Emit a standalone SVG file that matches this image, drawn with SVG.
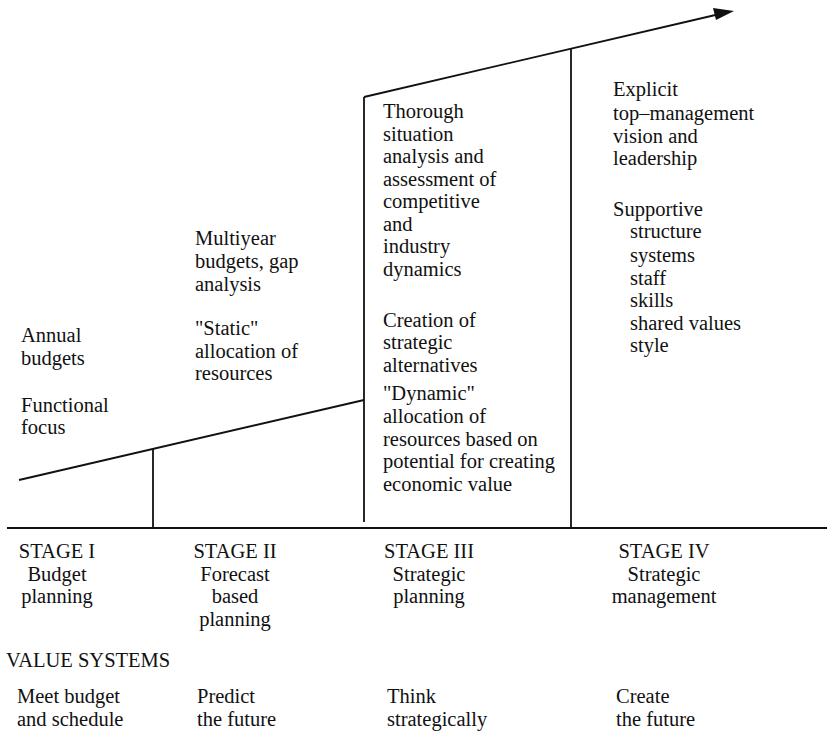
<svg xmlns="http://www.w3.org/2000/svg" width="827" height="731" viewBox="0 0 827 731">
  <style>
    text { font-family: "Liberation Serif", "Times New Roman", serif; font-size: 20.5px; fill: #111; }
    .c { text-anchor: middle; }
    .ln { stroke: #111; stroke-width: 1.8; fill: none; }
  </style>
  <defs>
    <marker id="arrow" markerWidth="12" markerHeight="8" refX="11" refY="4" orient="auto" markerUnits="userSpaceOnUse" viewBox="0 0 12 8">
      <path d="M0,0 L12,4 L0,8 Z" fill="#111"/>
    </marker>
  </defs>
  <rect width="827" height="731" fill="#fff"/>

  <!-- axis, rising profile and stage dividers -->
  <g id="connectors">
    <line class="ln" x1="7" y1="528" x2="827" y2="528"/>
    <line class="ln" x1="19" y1="480" x2="364" y2="400"/>
    <line class="ln" x1="153" y1="449" x2="153" y2="528"/>
    <line class="ln" x1="364" y1="97" x2="364" y2="522"/>
    <line class="ln" x1="364" y1="97" x2="724" y2="13" style="stroke-width:1.8"/>
    <path d="M713,8 L734,11 L716,20 Z" fill="#111"/>
    <line class="ln" x1="571" y1="49" x2="571" y2="528"/>
  </g>

  <g id="stage1-features">
    <text x="21" y="342">Annual</text>
    <text x="21" y="365">budgets</text>
    <text x="21" y="412">Functional</text>
    <text x="21" y="434">focus</text>
  </g>

  <g id="stage2-features">
    <text x="195" y="245">Multiyear</text>
    <text x="195" y="268">budgets, gap</text>
    <text x="195" y="291">analysis</text>
    <text x="195" y="335">"Static"</text>
    <text x="195" y="358">allocation of</text>
    <text x="195" y="380">resources</text>
  </g>

  <g id="stage3-features">
    <text x="383" y="118">Thorough</text>
    <text x="383" y="141">situation</text>
    <text x="383" y="163">analysis and</text>
    <text x="383" y="186">assessment of</text>
    <text x="383" y="208">competitive</text>
    <text x="383" y="231">and</text>
    <text x="383" y="253">industry</text>
    <text x="383" y="276">dynamics</text>
    <text x="383" y="327">Creation of</text>
    <text x="383" y="349">strategic</text>
    <text x="383" y="372">alternatives</text>
    <text x="383" y="400">"Dynamic"</text>
    <text x="383" y="423">allocation of</text>
    <text x="383" y="446">resources based on</text>
    <text x="383" y="468">potential for creating</text>
    <text x="383" y="491">economic value</text>
  </g>

  <g id="stage4-features">
    <text x="613" y="96">Explicit</text>
    <text x="613" y="120">top–management</text>
    <text x="613" y="143">vision and</text>
    <text x="613" y="165">leadership</text>
    <text x="613" y="216">Supportive</text>
    <text x="630" y="238">structure</text>
    <text x="630" y="262">systems</text>
    <text x="630" y="285">staff</text>
    <text x="630" y="307">skills</text>
    <text x="630" y="330">shared values</text>
    <text x="630" y="352">style</text>
  </g>

  <g id="stage1-label">
    <text class="c" x="57" y="558">STAGE I</text>
    <text class="c" x="57" y="581">Budget</text>
    <text class="c" x="57" y="603">planning</text>
  </g>
  <g id="stage2-label">
    <text class="c" x="235" y="558">STAGE II</text>
    <text class="c" x="235" y="581">Forecast</text>
    <text class="c" x="235" y="603">based</text>
    <text class="c" x="235" y="626">planning</text>
  </g>
  <g id="stage3-label">
    <text class="c" x="429" y="558">STAGE III</text>
    <text class="c" x="429" y="581">Strategic</text>
    <text class="c" x="429" y="603">planning</text>
  </g>
  <g id="stage4-label">
    <text class="c" x="664" y="558">STAGE IV</text>
    <text class="c" x="664" y="581">Strategic</text>
    <text class="c" x="664" y="603">management</text>
  </g>

  <g id="value-systems">
    <text x="6" y="667">VALUE SYSTEMS</text>
    <text x="17" y="703">Meet budget</text>
    <text x="17" y="726">and schedule</text>
    <text x="197" y="703">Predict</text>
    <text x="197" y="726">the future</text>
    <text x="387" y="703">Think</text>
    <text x="387" y="726">strategically</text>
    <text x="616" y="703">Create</text>
    <text x="616" y="726">the future</text>
  </g>
</svg>
